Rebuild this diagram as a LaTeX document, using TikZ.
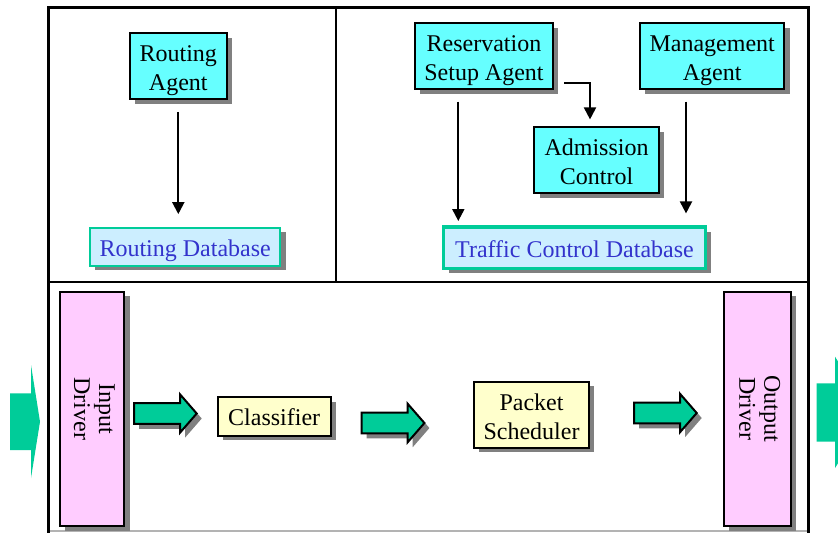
\documentclass[tikz,border=0pt]{standalone}
\usepackage{fontspec}
\setmainfont{Liberation Serif}
\usetikzlibrary{arrows.meta,shadows}

\definecolor{agentfill}{HTML}{66FFFF}
\definecolor{dbfill}{HTML}{CCEEFF}
\definecolor{dbline}{HTML}{00CC99}
\definecolor{dbtext}{HTML}{3333CC}
\definecolor{stagefill}{HTML}{FFFFCC}
\definecolor{driverfill}{HTML}{FFCCFF}
\definecolor{flowgreen}{HTML}{00CC99}
\definecolor{shadowgray}{HTML}{808080}

\tikzset{
  txt/.style={font=\fontsize{12}{14.5}\selectfont, align=center, inner sep=0pt},
  % the box of a multi-line label has its baseline on the last line
  twoline/.style={text height=24.5pt, text depth=0pt},
  oneline/.style={text height=9.5pt, text depth=0pt},
  boxshadow/.style={drop shadow={shadow xshift=2.7pt, shadow yshift=-2.3pt, fill=shadowgray, opacity=1}},
  agent/.style={txt, twoline, draw=black, line width=1pt, fill=agentfill, boxshadow},
  database/.style={txt, oneline, draw=dbline, fill=dbfill, text=dbtext, boxshadow},
  stage/.style={txt, draw=black, line width=1pt, fill=stagefill, boxshadow},
  driver/.style={txt, draw=black, line width=1pt, fill=driverfill, boxshadow},
  drivertext/.style={txt, rotate=-90, font=\fontsize{12}{12.5}\selectfont, text height=18pt, text depth=0pt},
  ctl/.style={line width=1pt, -{Triangle[width=6pt,length=6pt]}},
  frameline/.style={line width=1.5pt},
  divider/.style={line width=1pt},
  blockarr/.pic={
    \fill[shadowgray, shift={(2.5pt,-2.5pt)}]
      (0,-10.3) -- (46,-10.3) -- (46,-19.2) -- (62.7,0) -- (46,19.2) -- (46,10.3) -- (0,10.3) -- cycle;
    \filldraw[fill=flowgreen, draw=black, line width=1pt, line join=miter]
      (0,-10.3) -- (46,-10.3) -- (46,-19.2) -- (62.7,0) -- (46,19.2) -- (46,10.3) -- (0,10.3) -- cycle;
  }
}

\begin{document}
\begin{tikzpicture}[x=0.5pt, y=-0.5pt]
  \useasboundingbox (0,0) rectangle (838,532);
  \clip (0,0) rectangle (838,532);
  \fill[white] (0,0) rectangle (838,532);

  % outer frame and section dividers
  \draw[shadowgray!60, line width=0.6pt] (48.3,531) -- (808,531);
  \draw[frameline] (48.3,533) -- (48.3,7.5) -- (808,7.5) -- (808,533);
  \draw[divider] (48.3,282) -- (808,282);
  \draw[divider] (336,7.5) -- (336,282);

  % control plane
  \node[agent, minimum width=48.3pt, minimum height=33pt] (ra) at (178.3,66.3) {Routing\\Agent};
  \node[database, line width=1pt, minimum width=95.2pt, minimum height=19pt] (rdb) at (185.2,246.7) {Routing Database};

  \node[agent, minimum width=69pt, minimum height=33pt] (rsa) at (484,56.3) {Reservation\\Setup Agent};
  \node[agent, minimum width=72.2pt, minimum height=33pt] (ma) at (712.2,56.3) {Management\\Agent};
  \node[agent, minimum width=62.2pt, minimum height=33.2pt] (ac) at (596.5,160.2) {Admission\\Control};
  \node[database, line width=1.6pt, minimum width=131.2pt, minimum height=20.7pt] (tdb) at (574.5,247.7) {Traffic Control Database};

  \draw[ctl, shorten <=5.8pt, shorten >=6.3pt] (ra.south) -- (ra.south |- rdb.north);
  \draw[ctl, shorten <=5.7pt, shorten >=2.2pt] (458.3,0 |- rsa.south) -- (458.3,0 |- tdb.north);
  \draw[ctl, shorten <=5.7pt, shorten >=6pt] (686,0 |- ma.south) -- (686,0 |- tdb.north);
  \draw[ctl, shorten <=5.2pt, shorten >=3.3pt] (rsa.east |- 0,83.3) -| (590,0 |- ac.north);

  % data plane
  \node[driver, minimum width=32.2pt, minimum height=117.2pt] (ind) at (92.2,408.9) {};
  \node[drivertext] at (ind.center) {Input\\Driver};
  \node[driver, minimum width=33.3pt, minimum height=117.2pt] (outd) at (757.3,408.9) {};
  \node[drivertext] at (outd.center) {Output\\Driver};
  \node[stage, text height=9pt, text depth=0pt, minimum width=56.5pt, minimum height=19.2pt] (cls) at (274.2,416.5) {Classifier};
  \node[stage, twoline, minimum width=57.5pt, minimum height=33pt] (ps) at (531.5,414.7) {Packet\\Scheduler};

  \pic at (134,413.5) {blockarr};
  \pic at (361.7,423) {blockarr};
  \pic at (634,413) {blockarr};

  % traffic entering and leaving the router
  \fill[flowgreen] (10,393.3) -- (31,393.3) -- (31,365) -- (40,421.7) -- (31,478) -- (31,450) -- (10,450) -- cycle;
  \fill[flowgreen] (816.7,383.3) -- (835,383.3) -- (835,356.7) -- (870,412) -- (835,468) -- (835,441.7) -- (816.7,441.7) -- cycle;
\end{tikzpicture}
\end{document}
